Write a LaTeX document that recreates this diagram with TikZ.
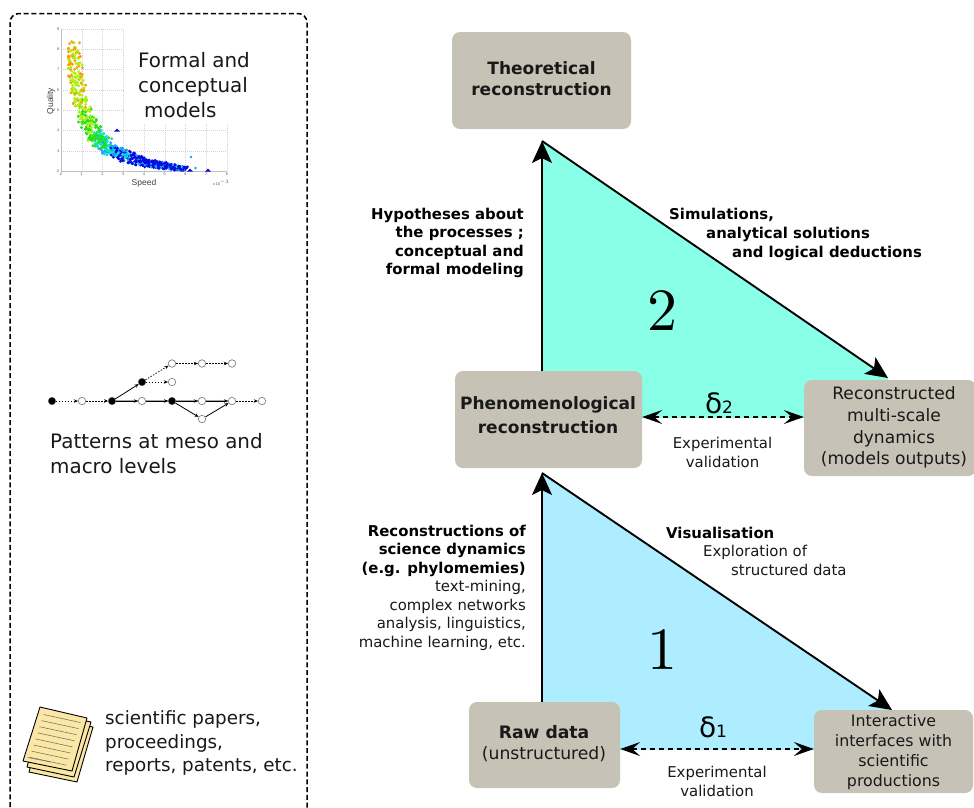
\documentclass[tikz,border=0pt]{standalone}
\usepackage{fontspec}
\setmainfont{DejaVu Sans}
\newfontfamily\plotfont{Liberation Sans}
\newfontfamily\lmfont[Extension=.otf]{lmroman10-regular}
\usetikzlibrary{arrows.meta}
\definecolor{boxc}{HTML}{C6C2B6}
\definecolor{tealc}{HTML}{88FFE6}
\definecolor{bluec}{HTML}{ADEDFF}
\definecolor{paperc}{HTML}{FBE7A5}
\definecolor{ptorange}{HTML}{FF9A10}
\definecolor{ptlime}{HTML}{AEEF10}
\definecolor{ptgreen}{HTML}{20E020}
\definecolor{ptcyan}{HTML}{10E0E0}
\definecolor{ptsky}{HTML}{10A0FF}
\definecolor{ptblue}{HTML}{0808E0}
\tikzset{
  x=1pt,y=-1pt,
  boxn/.style={fill=boxc,rounded corners=8pt,inner sep=0pt},
  boxt/.style={inner sep=0pt,align=center,text=black!90},
  big/.style={-{Stealth[length=22pt,width=20pt,inset=5pt]},line width=1.9pt},
  dbl/.style={{Stealth[length=20pt,width=14pt,inset=8pt]}-{Stealth[length=20pt,width=14pt,inset=8pt]},line width=1.1pt,dash pattern=on 5pt off 4pt},
  sidetext/.style={font=\fontsize{19.9}{25}\selectfont,align=left,inner sep=0pt,text=black!90},
  lab/.style={font=\fontsize{14.9}{18.7}\selectfont,inner sep=0pt,text=black!90},
  blab/.style={font=\fontsize{14.9}{18.6}\selectfont\bfseries,inner sep=0pt,text=black},
  sheet/.style={draw=black,fill=paperc,line width=0.9pt,line join=round},
  blk/.style={circle,draw=gray!70!black,fill=black,minimum size=7.5pt,inner sep=0pt,line width=0.4pt},
  wht/.style={circle,draw=gray,fill=white,minimum size=7.5pt,inner sep=0pt,line width=0.7pt},
  solidarr/.style={-{Stealth[length=4pt,width=3.5pt]},line width=0.8pt},
  dotarr/.style={-{Stealth[length=4pt,width=3.5pt]},line width=0.7pt,dash pattern=on 1.5pt off 1.5pt},
  griddot/.style={gray!35,line width=0.35pt,dash pattern=on 0.8pt off 1.2pt},
  tick/.style={font=\plotfont\fontsize{3.8}{4}\selectfont,inner sep=0pt,text=gray!60!black}
}
\begin{document}
\begin{tikzpicture}
\useasboundingbox (0,0) rectangle (974,807);
\fill[white] (0,0) rectangle (974,807);
% dashed panel
\draw[line width=1.5pt,dash pattern=on 5pt off 2.8pt,rounded corners=9pt] (10,815) -- (10,13.5) -- (307,13.5) -- (307,815);
% scatter axes
\foreach \k in {0,...,3} \draw[griddot] ({61+\k*20.75},29) -- ({61+\k*20.75},171);
\foreach \k in {4,...,8} \draw[griddot] ({61+\k*20.75},124) -- ({61+\k*20.75},171);
\foreach \k in {5,...,9} \draw[griddot] (61,{171-(\k-2)*20.3}) -- (124,{171-(\k-2)*20.3});
\foreach \k in {2,3,4} \draw[griddot] (61,{171-(\k-2)*20.3}) -- (227,{171-(\k-2)*20.3});
\draw[gray!50,line width=0.35pt] (61,29) -- (61,171) -- (227,171);
\foreach \k in {0,...,8} \node[tick,anchor=north] at ({61+\k*20.75},173) {\k};
\foreach \k in {2,...,9} \node[tick,anchor=east] at (59.5,{171-(\k-2)*20.3}) {\k};
\pgfmathsetseed{4711}
\foreach \i in {1,...,850}{
  \pgfmathsetmacro{\rr}{rnd}
  \pgfmathsetmacro{\ss}{0.55+5.4*pow(\rr,1.45)}
  \pgfmathsetmacro{\qq}{max(2.03,1.4+3.8/pow(\ss,0.93)+(rnd-0.5)*(0.9-0.12*\ss))}
  \pgfmathsetmacro{\sj}{max(0.36,\ss+(rnd-0.5)*(0.8-0.08*\ss))}
  \pgfmathsetmacro{\cc}{\ss+(rnd-0.5)*1.0}
  \pgfmathsetmacro{\ee}{rnd}
  \pgfmathsetmacro{\cname}{\cc<0.6?"ptorange":(\cc<1.3?"ptlime":(\cc<1.9?"ptgreen":(\cc<2.4?"ptcyan":(\cc<2.7?"ptsky":(\ee<0.12?"ptcyan":(\ee<0.28?"ptsky":"ptblue"))))))}
  \fill[\cname] ({61+\sj*20.75},{171-(\qq-2)*20.3}) circle[radius=1.6];
}
\fill[ptblue] (208,168.5) -- (211,171.5) -- (205,171.5) -- cycle;
\fill[ptblue] (190,168.5) -- (193,171.5) -- (187,171.5) -- cycle;
\fill[ptsky] (191,157) circle[radius=1.4];
\fill[ptsky] (195.5,168) circle[radius=1.3];
\fill[ptblue] (117,128.5) -- (120,131.5) -- (114,131.5) -- cycle;
\node[font=\plotfont\fontsize{8.5}{10}\selectfont,inner sep=0pt,text=black!75] (speed) at (144,183) {Speed};
\node[font=\plotfont\fontsize{8.5}{10}\selectfont,inner sep=0pt,rotate=90,text=black!75] (quality) at (51,101) {Quality};
\node[font=\plotfont\fontsize{3.8}{4}\selectfont,inner sep=0pt,text=gray!60!black] (xscale) at (221,183) {x 10$^{-3}$};
% side text
\node[sidetext,anchor=north west] (formal) at (138,52) {Formal and\\conceptual\\\hspace*{6pt}models};
\node[sidetext,anchor=north west] (patterns) at (50,433.5) {Patterns at meso and\\macro levels};
\node[font=\fontsize{18.3}{23.5}\selectfont,align=left,inner sep=0pt,anchor=north west,text=black!90] (papers) at (105,710.5) {scientific papers,\\proceedings,\\reports, patents, etc.};
% little tree
\node[blk] (a1) at (52,401) {}; \node[wht] (a2) at (82,401) {}; \node[blk] (a3) at (112,401) {};
\node[wht] (a4) at (142,401) {}; \node[blk] (a5) at (172,401) {}; \node[wht] (a6) at (202,401) {};
\node[wht] (a7) at (232,401) {}; \node[wht] (a8) at (262,401) {};
\node[blk] (b1) at (142,382) {}; \node[wht] (b2) at (172,382) {};
\node[wht] (c1) at (172,363.5) {}; \node[wht] (c2) at (202,363.5) {}; \node[wht] (c3) at (232,363.5) {};
\node[wht] (d1) at (202,419) {};
\draw[gray!70,line width=1.6pt] (a3)--(a4) (a4)--(a5) (a5)--(a6) (a6)--(a7);
\draw[dotarr] (a1)--(a2); \draw[dotarr] (a2)--(a3); \draw[solidarr] (a3)--(a4); \draw[solidarr] (a4)--(a5);
\draw[solidarr] (a5)--(a6); \draw[solidarr] (a6)--(a7); \draw[dotarr] (a7)--(a8);
\draw[solidarr] (a3)--(b1); \draw[dotarr] (b1)--(b2); \draw[dotarr] (b1)--(c1);
\draw[dotarr] (c1)--(c2); \draw[dotarr] (c2)--(c3); \draw[solidarr] (a5)--(d1); \draw[solidarr] (d1)--(a7);
% paper stack
\draw[sheet] (44,717) -- (93,727) -- (77,782) -- (29,772) -- cycle;
\draw[sheet] (42,712) -- (91,722) -- (74,777) -- (27,767) -- cycle;
\draw[sheet] (40,707) -- (87,718) -- (72,771) -- (23,761) -- cycle;
\foreach \k in {0,...,7}
  \draw[gray!80!black,line width=0.5pt] ({43.5-\k*2},{714.5+\k*6.1}) -- ({80.5-\k*2},{722.5+\k*6.1});
\draw[gray!80!black,line width=0.5pt] (27.5,757.5) -- (51,762);
% triangles
\fill[tealc] (542,141) -- (888,378) -- (888,418) -- (542,418) -- cycle;
\fill[bluec] (542,473) -- (892,710) -- (892,750) -- (542,750) -- cycle;
% boxes
\node[boxn,minimum width=179pt,minimum height=97pt] (theo) at (541.5,80.5) {};
\node[boxn,minimum width=187pt,minimum height=97pt] (phen) at (548.5,419.5) {};
\node[boxn,minimum width=172pt,minimum height=96pt] (recon) at (890,428) {};
\node[boxn,minimum width=151pt,minimum height=86pt] (raw) at (544.5,745) {};
\node[boxn,minimum width=159pt,minimum height=83pt] (inter) at (893.5,751.5) {};
\node[boxt,font=\fontsize{17}{21}\selectfont\bfseries] (theoL) at (541.5,78.5) {Theoretical\\reconstruction};
\node[boxt,font=\fontsize{17}{24}\selectfont\bfseries] (phenL) at (548,415) {Phenomenological\\reconstruction};
\node[boxt,font=\fontsize{17.1}{21.7}\selectfont] (reconL) at (894,427.5) {Reconstructed\\multi-scale\\dynamics\\(models outputs)};
\node[boxt,font=\fontsize{17.2}{21}\selectfont] (rawL) at (544,743.5) {\textbf{Raw data}\\(unstructured)};
\node[boxt,font=\fontsize{15.8}{20}\selectfont] (interL) at (893.5,752) {Interactive\\interfaces with\\scientific\\productions};
% named arrow ends
\coordinate (tA) at (542,141);
\coordinate (pS) at (542,371);
\coordinate (pB) at (542,473);
\coordinate (rN) at (542,702);
\coordinate (rT) at (888,378);
\coordinate (iT) at (892,710);
% arrows
\draw[big] (pS) -- (tA);
\draw[big] (rN) -- (pB);
\draw[big] (tA) -- (rT);
\draw[big] (pB) -- (iT);
\draw[dbl] (phen.east |- 0,417) -- (recon.west |- 0,417);
\draw[dbl] (raw.east |- 0,749) -- (inter.west |- 0,749);
% labels
\node[blab,anchor=north east,align=right] (hyp) at (524,207.5) {Hypotheses about\\the processes ;\\conceptual and\\formal modeling};
\node[blab,anchor=north west,align=left,font=\fontsize{14.9}{19}\selectfont\bfseries] (sim) at (669,208) {Simulations,\\\hspace*{37pt}analytical solutions\\\hspace*{63pt}and logical deductions};
\node[blab,anchor=north east,align=right] (rec) at (526,524.5) {Reconstructions of\\science dynamics\\(e.g. phylomemies)};
\node[lab,anchor=north east,align=right] (txt) at (526,580) {text-mining,\\complex networks\\analysis, linguistics,\\machine learning, etc.};
\node[blab,anchor=north west] (vis) at (666,527) {Visualisation};
\node[lab,anchor=north west,align=left] (expl) at (703,545) {Exploration of\\\hspace*{28pt}structured data};
\node[lab,align=center] (ev2) at (722.5,452.5) {Experimental\\validation};
\node[lab,align=center] (ev1) at (717,781.5) {Experimental\\validation};
\node[font=\lmfont\fontsize{60}{60}\selectfont,inner sep=0pt] (two) at (662,311) {2};
\node[font=\lmfont\fontsize{60}{60}\selectfont,inner sep=0pt] (one) at (662,650) {1};
\node[inner sep=0pt,anchor=base] (d2) at (719,413) {\fontsize{28}{28}\selectfont δ\fontsize{17}{17}\selectfont 2};
\node[inner sep=0pt,anchor=base] (d1) at (713,737) {\fontsize{28}{28}\selectfont δ\fontsize{17}{17}\selectfont 1};
\end{tikzpicture}
\end{document}
